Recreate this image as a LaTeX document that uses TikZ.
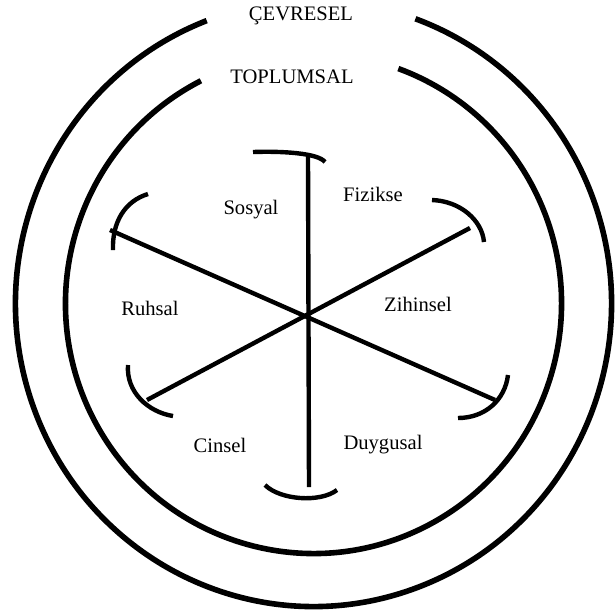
\documentclass[tikz,border=0pt]{standalone}
\usepackage{fontspec}
\setmainfont{Liberation Serif}
\usetikzlibrary{positioning}
\tikzset{
  ring/.style={line width=2.8pt, black},
  spoke/.style={line width=2.2pt, black},
  endarc/.style={line width=2.2pt, black},
  lbl/.style={font=\fontsize{10.3}{12}\selectfont, anchor=base, inner sep=0pt},
}
\begin{document}
\begin{tikzpicture}[x=0.5pt, y=-0.5pt]
  \useasboundingbox (0,0) rectangle (616,612);
  % rings
  \coordinate (mid) at (313.5,303.5);
  \draw[ring] (mid) ++(-111:298 and 303) arc[start angle=-111, end angle=-430, x radius=298, y radius=303];
  \draw[ring] (mid) ++(-117:248 and 250) arc[start angle=-117, end angle=-430, x radius=248, y radius=250];
  \node[lbl] (cevre) at (301,20) {ÇEVRESEL};
  \node[lbl] (toplum) at (292,83) {TOPLUMSAL};
  % spokes
  \coordinate (hub) at (308,315);
  \coordinate (pt) at (308,156);
  \coordinate (pb) at (309,487);
  \coordinate (pul) at (110,230);
  \coordinate (pur) at (470,228);
  \coordinate (pll) at (147,400);
  \coordinate (plr) at (495,400);
  \draw[spoke] (pt) -- (pb);
  \draw[spoke] (pul) -- (plr);
  \draw[spoke] (pur) -- (pll);
  % arcs at the spoke ends
  \draw[endarc] (253,152) .. controls (282,151) and (318,153) .. (325,162);
  \draw[endarc] (148,194) .. controls (125,201) and (112,222) .. (113,250);
  \draw[endarc] (432,200) .. controls (460,201) and (482,220) .. (484,242);
  \draw[endarc] (128,365) .. controls (126,392) and (148,412) .. (173,416);
  \draw[endarc] (508,375) .. controls (505,400) and (485,418) .. (458,418);
  \draw[endarc] (265,485) .. controls (280,500) and (320,503) .. (337,490);
  % labels
  \node[lbl] (sosyal) at (251,214) {Sosyal};
  \node[lbl] (fizik) at (373,201) {Fizikse};
  \node[lbl] (ruh) at (150,315) {Ruhsal};
  \node[lbl] (zihin) at (418,311) {Zihinsel};
  \node[lbl] (cins) at (220,452) {Cinsel};
  \node[lbl] (duygu) at (383,449) {Duygusal};
\end{tikzpicture}
\end{document}
